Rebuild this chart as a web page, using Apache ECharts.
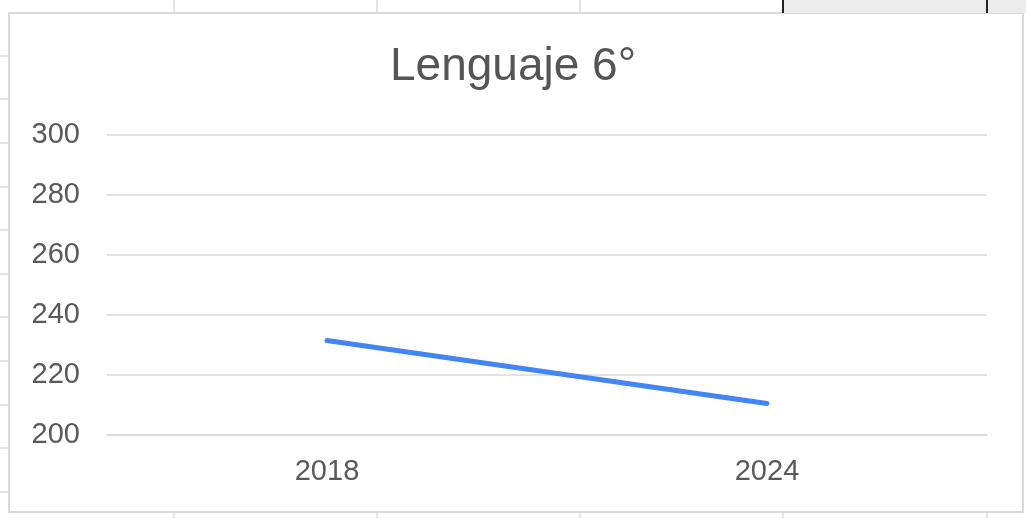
<!DOCTYPE html>
<html>
<head>
<meta charset="utf-8">
<script src="https://cdn.jsdelivr.net/npm/echarts@6/dist/echarts.min.js"></script>
<style>
  html, body { margin: 0; padding: 0; background: #fff; }
  #chart { width: 1026px; height: 518px; }
</style>
</head>
<body>
<div id="chart"></div>
<script>
// data
var years = ['2018', '2024'];
var puntajes = [231.5, 210.5];
var yMin = 200, yMax = 300, yStep = 20;

// spreadsheet cells around the chart (decoration only)
var colLines = [174, 377, 580, 783, 987];
var rowLines = [56, 99, 143, 187, 230, 274, 317, 361, 405, 448, 492];

var deco = [];
// gray selected cell at top right
deco.push({ type: 'rect', shape: { x: 783, y: 0, width: 243, height: 13 }, style: { fill: '#ebebeb' }, z: 0 });
colLines.forEach(function (x) {
  var dark = x >= 783;
  deco.push({ type: 'line', shape: { x1: x, y1: 0, x2: x, y2: 13 },
    style: { stroke: dark ? '#222' : '#dadada', lineWidth: dark ? 2 : 1.5 }, z: 1 });
  deco.push({ type: 'line', shape: { x1: x, y1: 512, x2: x, y2: 518 },
    style: { stroke: '#dadada', lineWidth: 1.5 }, z: 1 });
});
rowLines.forEach(function (y) {
  deco.push({ type: 'line', shape: { x1: 0, y1: y, x2: 9, y2: y },
    style: { stroke: '#dadada', lineWidth: 1.5 }, z: 1 });
});
// chart frame
deco.push({ type: 'rect', shape: { x: 9, y: 13, width: 1014, height: 499 },
  style: { fill: '#fff', stroke: '#dadada', lineWidth: 2 }, z: -1 });

var myChart = echarts.init(document.getElementById('chart'));
myChart.setOption({
  animation: false,
  backgroundColor: '#fff',
  textStyle: { fontFamily: 'Liberation Sans, Arial, sans-serif' },
  graphic: deco,
  title: {
    text: 'Lenguaje 6°',
    left: 'center',
    top: 39,
    textStyle: { fontSize: 46, fontWeight: 'normal', color: '#555555' }
  },
  grid: { left: 107, right: 39, top: 135, bottom: 83 },
  xAxis: {
    type: 'category',
    data: years,
    boundaryGap: true,
    axisLine: { show: true, lineStyle: { color: '#d9d9d9', width: 1.5 } },
    axisTick: { show: false },
    axisLabel: { fontSize: 29, color: '#595959', margin: 22 }
  },
  yAxis: {
    type: 'value',
    min: yMin,
    max: yMax,
    interval: yStep,
    axisLine: { show: false },
    axisTick: { show: false },
    axisLabel: { fontSize: 29, color: '#595959', margin: 27 },
    splitLine: { lineStyle: { color: '#d9d9d9', width: 1.5 } }
  },
  series: [{
    name: 'Lenguaje 6°',
    type: 'line',
    data: puntajes,
    showSymbol: false,
    symbol: 'none',
    lineStyle: { color: '#4285f4', width: 5, cap: 'round' },
    itemStyle: { color: '#4285f4' }
  }]
});
</script>
</body>
</html>
